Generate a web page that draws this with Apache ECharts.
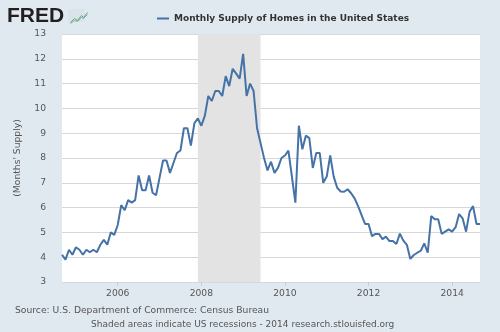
<!DOCTYPE html>
<html><head><meta charset="utf-8">
<script src="https://cdn.jsdelivr.net/npm/echarts@6/dist/echarts.min.js"></script>
<style>html,body{margin:0;padding:0;background:#e1e9f0;}#c{width:500px;height:332px;}</style>
</head><body><div id="c"></div>
<script>
// Monthly categories Sep 2004 .. Sep 2014
var startYear = 2004, startMonth = 9, nMonths = 121;
var months = [];
for (var k = 0; k < nMonths; k++) {
  var m = startMonth - 1 + k;
  var y = startYear + Math.floor(m / 12);
  var mm = (m % 12) + 1;
  months.push(y + '-' + (mm < 10 ? '0' + mm : mm));
}
var supply = [
  4.1, 3.9, 4.3, 4.1,
  4.4, 4.3, 4.1, 4.3, 4.2, 4.3, 4.2, 4.5, 4.7, 4.5, 5.0, 4.9,
  5.3, 6.1, 5.9, 6.3, 6.2, 6.3, 7.3, 6.7, 6.7, 7.3, 6.6, 6.5,
  7.2, 7.9, 7.9, 7.4, 7.8, 8.2, 8.3, 9.2, 9.2, 8.5, 9.4, 9.6,
  9.3, 9.7, 10.5, 10.3, 10.7, 10.7, 10.5, 11.3, 10.9, 11.6, 11.4, 11.2,
  12.2, 10.5, 11.0, 10.7, 9.2, 8.6, 8.0, 7.5, 7.85, 7.4, 7.6, 8.0,
  8.1, 8.3, 7.25, 6.2, 9.3, 8.35, 8.9, 8.8, 7.6, 8.2, 8.2, 7.0,
  7.25, 8.1, 7.25, 6.8, 6.65, 6.64, 6.74, 6.58, 6.37, 6.06, 5.7, 5.34,
  5.34, 4.85, 4.94, 4.94, 4.73, 4.83, 4.65, 4.65, 4.53, 4.95, 4.67, 4.5,
  3.93, 4.09, 4.18, 4.26, 4.56, 4.18, 5.66, 5.53, 5.53, 4.94, 5.03, 5.12,
  5.03, 5.21, 5.74, 5.57, 5.03, 5.83, 6.06, 5.34, 5.34
];
var recessionStart = '2007-12', recessionEnd = '2009-06';
var yTicks = { min: 3, max: 13, step: 1 };
var seriesName = 'Monthly Supply of Homes in the United States';
var yAxisName = "(Months' Supply)";
var sourceText = 'Source: U.S. Department of Commerce: Census Bureau';
var noteText = 'Shaded areas indicate US recessions - 2014 research.stlouisfed.org';

function isLabelMonth(idx, val) {
  var y = parseInt(val.slice(0, 4), 10);
  return val.slice(5) === '01' && y % 2 === 0;
}

var chart = echarts.init(document.getElementById('c'), null, { renderer: 'canvas' });
var font = 'DejaVu Sans, Verdana, sans-serif';
chart.setOption({
  backgroundColor: '#e1e9f0',
  animation: false,
  textStyle: { fontFamily: font },
  grid: { left: 62, right: 20, top: 34, bottom: 50, show: true, backgroundColor: '#ffffff', borderWidth: 0 },
  legend: {
    show: true, top: 9, left: 152, itemWidth: 12, itemHeight: 2, itemGap: 4,
    icon: 'rect',
    textStyle: { fontFamily: font, fontSize: 9, fontWeight: 'bold', color: '#333333' },
    data: [seriesName]
  },
  xAxis: {
    type: 'category', data: months, boundaryGap: false,
    axisLine: { show: false },
    axisTick: { show: true, interval: isLabelMonth, length: 4, lineStyle: { color: '#c5ced8' } },
    axisLabel: { interval: isLabelMonth, formatter: function (v) { return v.slice(0, 4); }, color: '#555555', fontSize: 9.2, margin: 7, fontFamily: font },
    splitLine: { show: false }
  },
  yAxis: {
    type: 'value', min: yTicks.min, max: yTicks.max, interval: yTicks.step,
    name: yAxisName, nameLocation: 'middle', nameGap: 40, nameRotate: 90,
    nameTextStyle: { color: '#555555', fontSize: 9.2, fontFamily: font },
    axisLine: { show: false }, axisTick: { show: false },
    axisLabel: { color: '#555555', fontSize: 9.2, margin: 16, fontFamily: font },
    splitLine: { show: true, lineStyle: { color: '#d8d8d8', width: 1 } }
  },
  series: [{
    name: seriesName, type: 'line', data: supply, symbol: 'none',
    lineStyle: { color: '#4572a7', width: 2 }, itemStyle: { color: '#4572a7' },
    markArea: {
      silent: true,
      itemStyle: { color: '#e3e3e3' },
      data: [[{ xAxis: recessionStart }, { xAxis: recessionEnd }]]
    },
    z: 3
  }],
  graphic: [
    { type: 'text', left: 7, top: 6, style: { text: 'FRED', fontSize: 21, fontWeight: 'bold', fontFamily: 'Liberation Sans, Arial, sans-serif', fill: '#231f20' } },
    { type: 'rect', left: 68, top: 9, shape: { width: 17, height: 13 }, style: { fill: '#d9e3ea' } },
    { type: 'polyline', left: 68, top: 10, shape: { points: [[0, 11], [4, 7], [7, 9], [11, 4], [13, 6], [17, 1]] }, style: { stroke: '#6aa84f', lineWidth: 1, fill: null } },
    { type: 'polyline', left: 68, top: 12, shape: { points: [[0, 10], [4, 7], [7, 8], [11, 4], [13, 5], [17, 1]] }, style: { stroke: '#7fa7cf', lineWidth: 1, fill: null } },
    { type: 'text', left: 15, top: 306, style: { text: sourceText, fontSize: 9.2, fontFamily: font, fill: '#555555' } },
    { type: 'text', left: 91, top: 320, style: { text: noteText, fontSize: 9, fontFamily: font, fill: '#555555' } }
  ]
});
</script>
</body></html>
